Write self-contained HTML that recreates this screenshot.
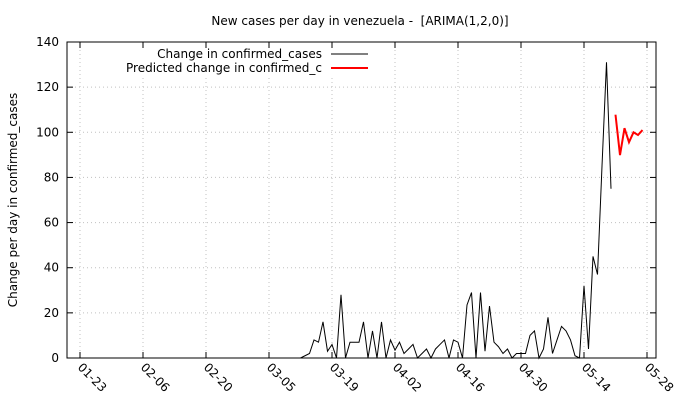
<!DOCTYPE html>
<html><head><meta charset="utf-8"><style>
body{margin:0;background:#fff}
svg{display:block;font-family:"DejaVu Sans","Liberation Sans",sans-serif}
</style></head><body>
<svg width="680" height="400" viewBox="0 0 680 400">
<g id="grid"></g>
<rect x="110" y="44" width="262" height="31" fill="#fff"/>
<g id="axes"></g>
<text x="360" y="25" text-anchor="middle" font-size="12" fill="#000">New cases per day in venezuela - &#160;[ARIMA(1,2,0)]</text>
<text transform="translate(17,200) rotate(-90)" text-anchor="middle" font-size="12">Change per day in confirmed_cases</text>
<g>
<text x="322" y="58" text-anchor="end" font-size="12">Change in confirmed_cases</text>
<line x1="331" y1="54" x2="368" y2="54" stroke="#000" stroke-width="1"/>
<text x="322" y="72" text-anchor="end" font-size="12">Predicted change in confirmed_c</text>
<line x1="331" y1="68" x2="368" y2="68" stroke="#f00" stroke-width="2"/>
</g>
<g id="series"></g>
</svg>
<script>
const yTicks=[0,20,40,60,80,100,120,140];
const xTickLabels=["01-23","02-06","02-20","03-05","03-19","04-02","04-16","04-30","05-14","05-28"];
const xTickDays=[0,14,28,42,56,70,84,98,112,126];
const actualStartDay=0;
const actualValues=[0,0,0,0,0,0,0,0,0,0,0,0,0,0,0,0,0,0,0,0,0,0,0,0,0,0,0,0,0,0,0,0,0,0,0,0,0,0,0,0,0,0,0,0,0,0,0,0,0,
0,1,2,8,7,16,3,6,0,28,0,7,7,7,16,0,12,0,16,0,8,3.5,7,2,4,6,0,2,4,0,4,6,8,0,8,7,0,23.5,29,0,29,3,23,7,5,2,4,0,2,2,2,10,12,0,4,18,2,8,14,12,8,1,0,32,4,45,37,85,131,75];
const predStartDay=119;
const predValues=[107.8,89.9,101.8,95.6,100,98.8,101];
const L=67,R=656,T=42,B=358,YMAX=140;
const xs=d=>80+4.5*d;
const ys=v=>B-(v/YMAX)*(B-T);
const NS="http://www.w3.org/2000/svg";
function mk(t,a,p){const e=document.createElementNS(NS,t);for(const k in a)e.setAttribute(k,a[k]);p.appendChild(e);return e;}
const grid=document.getElementById('grid'),axes=document.getElementById('axes'),series=document.getElementById('series');
yTicks.forEach(v=>{
 const y=ys(v);
 if(v>0&&v<YMAX){const g=mk('line',{x1:L,x2:R,y1:y,y2:y,stroke:'#c0c0c0','stroke-dasharray':'1,3'},grid);
 
 }
 const t1=mk('line',{x1:L,x2:L+6,y1:y,y2:y,stroke:'#000'},axes);
 
 
 const t2=mk('line',{x1:R-6,x2:R,y1:y,y2:y,stroke:'#000'},axes);
 
 
 const tx=mk('text',{x:L-8,y:y+4,'text-anchor':'end','font-size':12},axes);tx.textContent=v;
 
 
});
xTickDays.forEach((d,i)=>{
 const x=xs(d);
 const g=mk('line',{x1:x,x2:x,y1:T,y2:B,stroke:'#c0c0c0','stroke-dasharray':'1,3'},grid);
 
 
 const t1=mk('line',{x1:x,x2:x,y1:B,y2:B-6,stroke:'#000'},axes);
 
 
 const t2=mk('line',{x1:x,x2:x,y1:T,y2:T+6,stroke:'#000'},axes);
 
 
 const tx=mk('text',{transform:`translate(${x-3},${B+10}) rotate(45)`,'font-size':12},axes);tx.textContent=xTickLabels[i];
 
 
});
const border=mk('rect',{x:L,y:T,width:R-L,height:B-T,fill:'none',stroke:'#000'},axes);


const a=mk('polyline',{points:actualValues.map((v,i)=>xs(actualStartDay+i)+','+ys(v)).join(' '),fill:'none',stroke:'#000','stroke-width':1},series);


const p=mk('polyline',{points:predValues.map((v,i)=>xs(predStartDay+i)+','+ys(v)).join(' '),fill:'none',stroke:'#f00','stroke-width':2},series);


</script>
</body></html>
